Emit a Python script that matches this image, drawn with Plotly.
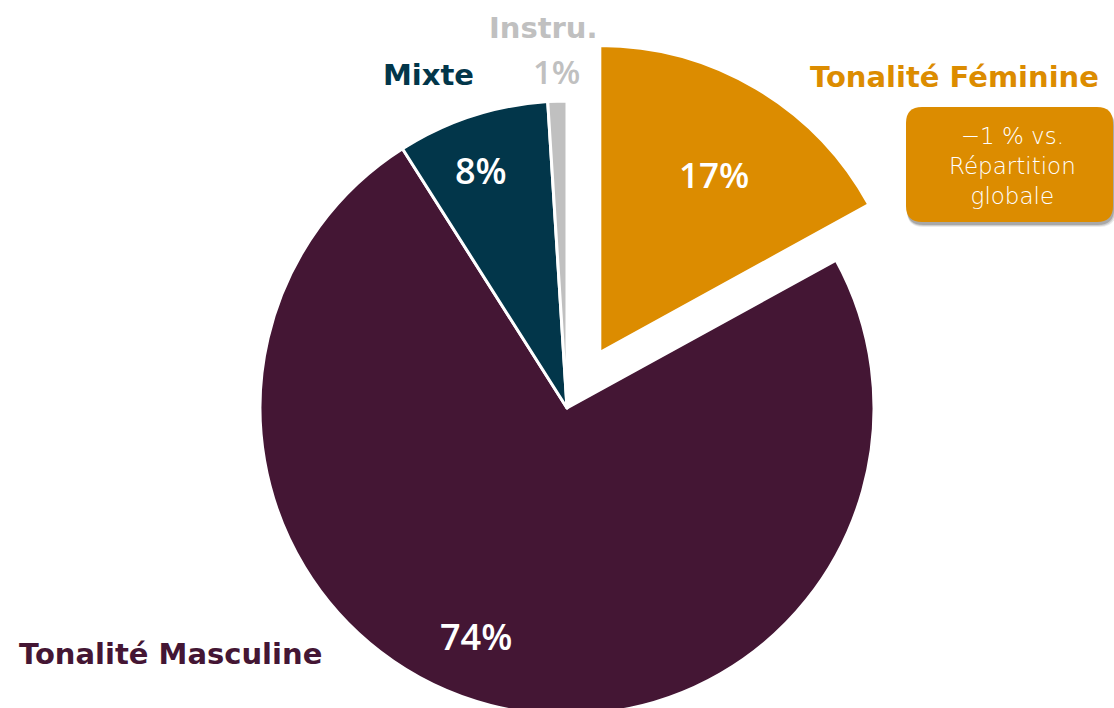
import plotly.graph_objects as go

# ---- data ----
labels = ["Tonalité Féminine", "Tonalité Masculine", "Mixte", "Instru."]
values = [17, 74, 8, 1]
pct_text = ["17%", "74%", "8%", "1%"]
colors = ["#DC8C00", "#441634", "#02364A", "#C0C0C0"]
pulls = [0.21, 0, 0, 0]
callout_lines = ["−1 % vs.", "Répartition", "globale"]

# ---- geometry (pixels) ----
W, H = 1114, 780
CX, CY, R = 567, 408, 307
half = R * (1 + max(pulls))

def px(x):
    return x / W

def py(y):
    return 1 - y / H

fig = go.Figure()
fig.add_trace(go.Pie(
    labels=labels, values=values, sort=False, direction="clockwise", rotation=0,
    marker=dict(colors=colors, line=dict(color="white", width=3)),
    pull=pulls, textinfo="none", hoverinfo="label+percent", showlegend=False,
    domain=dict(x=[px(CX - half), px(CX + half)], y=[max(0, py(CY + half)), py(CY - half)]),
))

FONT = "Open Sans"
LFONT = "DejaVu Sans"
ann = []
# percent labels inside slices
pct_pos = [(714, 175), (476, 636), (481, 170), (556, 71)]
pct_col = ["white", "white", "white", colors[3]]
pct_size = [35, 36, 36, 33]
for t, (x, y), c, s in zip(pct_text, pct_pos, pct_col, pct_size):
    ann.append(dict(x=px(x), y=py(y), text=t, showarrow=False, xanchor="center", yanchor="middle",
                    font=dict(family=FONT, size=s, color=c, weight=600)))
# category labels
lab_pos = [(954, 77), (170, 654), (428, 75), (543, 28)]
for t, (x, y), c in zip(labels, lab_pos, colors):
    ann.append(dict(x=px(x), y=py(y), text=t, showarrow=False, xanchor="center", yanchor="middle",
                    font=dict(family=LFONT, size=29, color=c, weight="bold")))

# callout box
def rounded(x0, y0, x1, y1, r):
    pts = [
        f"M {px(x0 + r)} {py(y0)}", f"L {px(x1 - r)} {py(y0)}",
        f"Q {px(x1)} {py(y0)} {px(x1)} {py(y0 + r)}", f"L {px(x1)} {py(y1 - r)}",
        f"Q {px(x1)} {py(y1)} {px(x1 - r)} {py(y1)}", f"L {px(x0 + r)} {py(y1)}",
        f"Q {px(x0)} {py(y1)} {px(x0)} {py(y1 - r)}", f"L {px(x0)} {py(y0 + r)}",
        f"Q {px(x0)} {py(y0)} {px(x0 + r)} {py(y0)}", "Z",
    ]
    return " ".join(pts)

shapes = []
for i, op in enumerate([0.08, 0.12, 0.18]):
    d = 3 - i
    shapes.append(dict(type="path", xref="paper", yref="paper",
                       path=rounded(906 + 1, 107 + 2 + d, 1113 + d, 222 + 2 + d, 16),
                       fillcolor=f"rgba(0,0,0,{op})", line=dict(width=0), layer="above"))
shapes.append(dict(type="path", xref="paper", yref="paper", path=rounded(906, 107, 1113, 222, 16),
                   fillcolor=colors[0], line=dict(width=0), layer="above"))

ann.append(dict(x=px(1012), y=py(166), text="<br>".join(callout_lines), showarrow=False,
                xanchor="center", yanchor="middle", align="center",
                font=dict(family=LFONT, size=23, color="white", weight=200)))

fig.update_layout(
    width=W, height=H, margin=dict(l=0, r=0, t=0, b=0),
    paper_bgcolor="white", plot_bgcolor="white",
    shapes=shapes, annotations=ann,
)
fig.write_html("out.html", config={"displayModeBar": False},
               post_script="document.body.style.margin='0';document.body.style.overflow='hidden';document.documentElement.style.overflow='hidden';")
